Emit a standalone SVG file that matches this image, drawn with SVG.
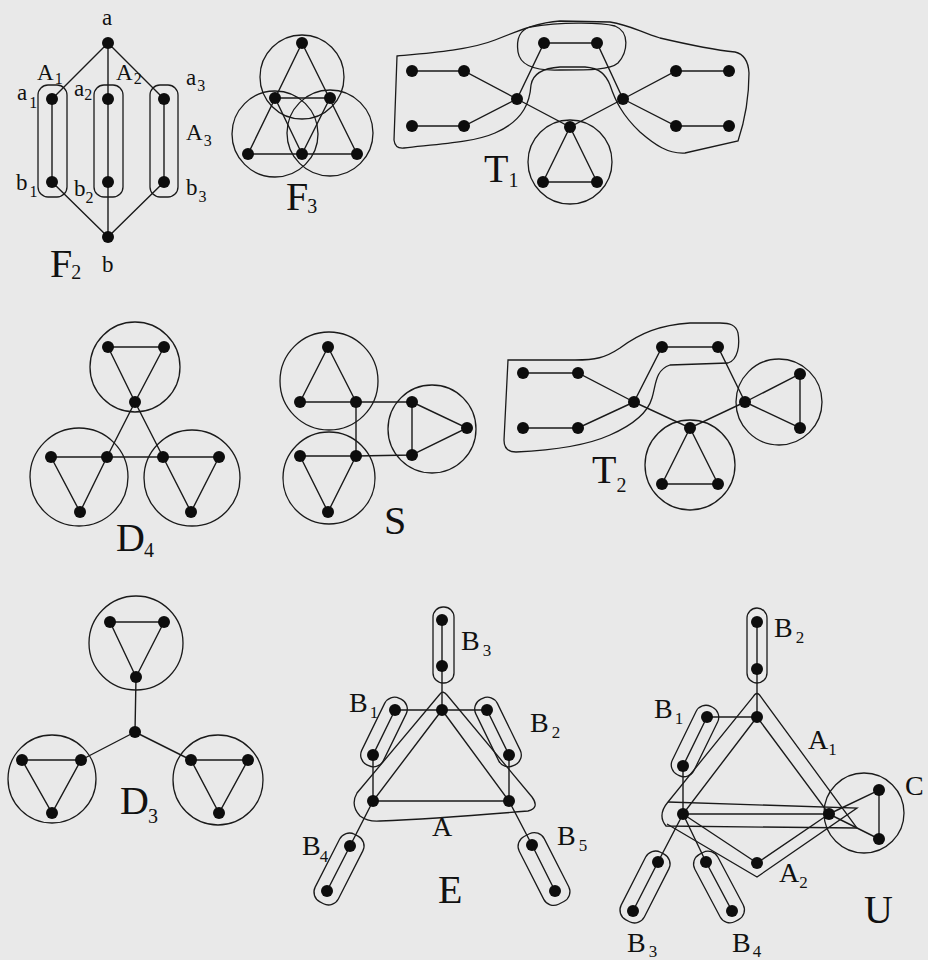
<svg xmlns="http://www.w3.org/2000/svg" xmlns:xlink="http://www.w3.org/1999/xlink" width="928" height="960" viewBox="0 0 928 960">
<style>
.e{stroke:#1a1a1a;stroke-width:1.4;fill:none}
.o{stroke:#1a1a1a;stroke-width:1.3;fill:none}
.n{fill:#0d0d0d}
text{font-family:"Liberation Serif","Times New Roman",serif;fill:#111}
.big{font-size:40px}
.sb{font-size:20px}
.s{font-size:23px}
.ss{font-size:16px}
.m{font-size:28px}
.ms{font-size:17px}
</style>
<defs><circle id="dot" class="n" r="6"/></defs>
<rect width="928" height="960" fill="#e9e9e9"/>

<!-- F2 -->
<g id="F2">
<g id="F2-edges" class="e">
<path d="M108,43L52,99M108,43L108,99M108,43L164,99M52,99L52,182M108,99L108,182M164,99L164,182M52,182L108,237M108,182L108,237M164,182L108,237"/>
</g>
<g id="F2-sets" class="o">
<rect x="38" y="85" width="29" height="112" rx="10"/>
<rect x="94" y="85" width="29" height="112" rx="10"/>
<rect x="150" y="85" width="28" height="112" rx="10"/>
</g>
<g id="F2-nodes">
<use id="F2-a" href="#dot" x="108" y="43"/><use id="F2-a1" href="#dot" x="52" y="99"/><use id="F2-a2" href="#dot" x="108" y="99"/><use id="F2-a3" href="#dot" x="164" y="99"/>
<use id="F2-b1" href="#dot" x="52" y="182"/><use id="F2-b2" href="#dot" x="108" y="182"/><use id="F2-b3" href="#dot" x="164" y="182"/><use id="F2-b" href="#dot" x="108" y="237"/>
</g>
<text class="s" x="102" y="25">a</text>
<text class="s" x="37" y="80">A<tspan class="ss" dx="1" dy="4">1</tspan></text>
<text class="s" x="17" y="100">a<tspan class="ss" dx="2" dy="8">1</tspan></text>
<text class="s" x="74" y="96">a<tspan class="ss" dx="0" dy="4">2</tspan></text>
<text class="s" x="116" y="80">A<tspan class="ss" dx="1" dy="4">2</tspan></text>
<text class="s" x="186" y="85">a<tspan class="ss" dx="1" dy="6">3</tspan></text>
<text class="s" x="186" y="140">A<tspan class="ss" dx="1" dy="6">3</tspan></text>
<text class="s" x="16" y="190">b<tspan class="ss" dx="2" dy="7">1</tspan></text>
<text class="s" x="74" y="196">b<tspan class="ss" dx="0" dy="7">2</tspan></text>
<text class="s" x="186" y="195">b<tspan class="ss" dx="1" dy="7">3</tspan></text>
<text class="s" x="102" y="272">b</text>
<text class="big" x="50" y="277">F<tspan class="sb" dx="-1" dy="2">2</tspan></text>
</g>

<!-- F3 -->
<g id="F3">
<g id="F3-edges" class="e">
<path d="M302,43L248,154M302,43L357,154M248,154L357,154M275,98L330,98M275,98L302,154M330,98L302,154"/>
</g>
<g id="F3-sets" class="o">
<circle cx="302" cy="77" r="42"/>
<circle cx="275" cy="134" r="43"/>
<circle cx="330" cy="133" r="43"/>
</g>
<g id="F3-nodes">
<use id="F3-1" href="#dot" x="302" y="43"/><use id="F3-2" href="#dot" x="275" y="98"/><use id="F3-3" href="#dot" x="330" y="98"/>
<use id="F3-4" href="#dot" x="248" y="154"/><use id="F3-5" href="#dot" x="302" y="154"/><use id="F3-6" href="#dot" x="357" y="154"/>
</g>
<text class="big" x="286" y="210">F<tspan class="sb" dx="-1" dy="3">3</tspan></text>
</g>

<!-- T1 -->
<g id="T1">
<g id="T1-edges" class="e">
<path d="M412,71L464,71L517,99M412,126L464,126L517,99M517,99L544,43L597,43L623,99M623,99L676,71L729,71M623,99L676,126L729,126M517,99L570,127L623,99M570,127L543,182L597,182L570,127"/>
</g>
<g id="T1-sets" class="o">
<path d="M397,56L394,140Q395,149 404,148C440,144 475,142 495,133C525,120 530,100 531,85C533,72 545,68 560,67L585,67C600,68 606,75 610,85C615,100 622,115 640,132C655,145 668,154 685,153L738,141C745,120 749,95 749,73Q748,55 735,52C715,50 690,45 660,38C640,32 630,25 610,22L560,21C540,22 520,30 495,40C470,50 430,53 397,56Z"/>
<path d="M530,27C560,22 600,22 615,26C630,32 628,52 618,63C610,70 590,70 560,70C535,71 520,65 518,52C516,38 520,30 530,27Z"/>
<circle cx="570" cy="162" r="42"/>
</g>
<g id="T1-nodes">
<use id="T1-n1" href="#dot" x="412" y="71"/><use id="T1-n2" href="#dot" x="464" y="71"/><use id="T1-n3" href="#dot" x="412" y="126"/><use id="T1-n4" href="#dot" x="464" y="126"/>
<use id="T1-c1" href="#dot" x="517" y="99"/><use id="T1-t1" href="#dot" x="544" y="43"/><use id="T1-t2" href="#dot" x="597" y="43"/><use id="T1-c2" href="#dot" x="623" y="99"/>
<use id="T1-r1" href="#dot" x="676" y="71"/><use id="T1-r2" href="#dot" x="729" y="71"/><use id="T1-r3" href="#dot" x="676" y="126"/><use id="T1-r4" href="#dot" x="729" y="126"/>
<use id="T1-t" href="#dot" x="570" y="127"/><use id="T1-tl" href="#dot" x="543" y="182"/><use id="T1-tr" href="#dot" x="597" y="182"/>
</g>
<text class="big" x="484" y="182">T<tspan class="sb" dx="0" dy="5">1</tspan></text>
</g>

<!-- D4 -->
<g id="D4">
<g id="D4-edges" class="e">
<path d="M108,347L164,347L135,402L108,347M135,402L107,457M135,402L163,457M51,457L219,457M51,457L80,512L107,457M163,457L191,512L219,457"/>
</g>
<g id="D4-sets" class="o">
<circle cx="135" cy="367" r="45"/>
<circle cx="79" cy="477" r="49"/>
<circle cx="192" cy="478" r="48"/>
</g>
<g id="D4-nodes">
<use id="D4-1" href="#dot" x="108" y="347"/><use id="D4-2" href="#dot" x="164" y="347"/><use id="D4-3" href="#dot" x="135" y="402"/>
<use id="D4-4" href="#dot" x="51" y="457"/><use id="D4-5" href="#dot" x="107" y="457"/><use id="D4-6" href="#dot" x="80" y="512"/>
<use id="D4-7" href="#dot" x="163" y="457"/><use id="D4-8" href="#dot" x="219" y="457"/><use id="D4-9" href="#dot" x="191" y="512"/>
</g>
<text class="big" x="116" y="551">D<tspan class="sb" dx="-1" dy="6">4</tspan></text>
</g>

<!-- S -->
<g id="S">
<g id="S-edges" class="e">
<path d="M328,347L300,402L356,402L328,347M356,402L412,402M356,402L356,456M300,456L356,456L412,455M300,456L328,512L356,456M412,402L412,455L467,428L412,402"/>
</g>
<g id="S-sets" class="o">
<circle cx="329" cy="381" r="49"/>
<circle cx="329" cy="478" r="46"/>
<circle cx="432" cy="429" r="44"/>
</g>
<g id="S-nodes">
<use id="S-1" href="#dot" x="328" y="347"/><use id="S-2" href="#dot" x="300" y="402"/><use id="S-3" href="#dot" x="356" y="402"/>
<use id="S-4" href="#dot" x="300" y="456"/><use id="S-5" href="#dot" x="356" y="456"/><use id="S-6" href="#dot" x="328" y="512"/>
<use id="S-7" href="#dot" x="412" y="402"/><use id="S-8" href="#dot" x="412" y="455"/><use id="S-9" href="#dot" x="467" y="428"/>
</g>
<text class="big" x="384" y="534">S</text>
</g>

<!-- T2 -->
<g id="T2">
<g id="T2-edges" class="e">
<path d="M523,373L578,373L634,402M523,428L578,428L634,402M634,402L662,347L718,347L745,402M745,402L800,374L800,428L745,402M634,402L690,428L745,402M690,428L662,484L718,484L690,428"/>
</g>
<g id="T2-sets" class="o">
<path d="M508,360L504,440Q504,452 516,452C560,450 590,444 610,435C635,424 648,412 652,398C656,385 655,370 670,365L728,363C738,360 740,345 738,333C736,325 730,323 720,323L690,323C660,325 640,333 620,348C605,358 595,360 575,360Z"/>
<circle cx="690" cy="465" r="45"/>
<circle cx="779" cy="402" r="43"/>
</g>
<g id="T2-nodes">
<use id="T2-n1" href="#dot" x="523" y="373"/><use id="T2-n2" href="#dot" x="578" y="373"/><use id="T2-n3" href="#dot" x="523" y="428"/><use id="T2-n4" href="#dot" x="578" y="428"/>
<use id="T2-c1" href="#dot" x="634" y="402"/><use id="T2-t1" href="#dot" x="662" y="347"/><use id="T2-t2" href="#dot" x="718" y="347"/><use id="T2-c2" href="#dot" x="745" y="402"/>
<use id="T2-rt" href="#dot" x="800" y="374"/><use id="T2-rb" href="#dot" x="800" y="428"/>
<use id="T2-t" href="#dot" x="690" y="428"/><use id="T2-tl" href="#dot" x="662" y="484"/><use id="T2-tr" href="#dot" x="718" y="484"/>
</g>
<text class="big" x="592" y="483">T<tspan class="sb" dx="0" dy="9">2</tspan></text>
</g>

<!-- D3 -->
<g id="D3">
<g id="D3-edges" class="e">
<path d="M110,622L164,622L136,677L110,622M136,677L135,732M135,732L81,760M135,732L191,760M22,760L81,760L52,813L22,760M191,760L248,760L219,813L191,760"/>
</g>
<g id="D3-sets" class="o">
<circle cx="136" cy="643" r="47"/>
<circle cx="52" cy="779" r="44"/>
<circle cx="218" cy="780" r="45"/>
</g>
<g id="D3-nodes">
<use id="D3-1" href="#dot" x="110" y="622"/><use id="D3-2" href="#dot" x="164" y="622"/><use id="D3-3" href="#dot" x="136" y="677"/>
<use id="D3-c" href="#dot" x="135" y="732"/>
<use id="D3-4" href="#dot" x="22" y="760"/><use id="D3-5" href="#dot" x="81" y="760"/><use id="D3-6" href="#dot" x="52" y="813"/>
<use id="D3-7" href="#dot" x="191" y="760"/><use id="D3-8" href="#dot" x="248" y="760"/><use id="D3-9" href="#dot" x="219" y="813"/>
</g>
<text class="big" x="120" y="814">D<tspan class="sb" dx="-1" dy="9">3</tspan></text>
</g>

<!-- E -->
<g id="E">
<g id="E-edges" class="e">
<path d="M442,620L442,710M395,710L487,710M395,710L373,755L373,801M487,710L509,755L509,801M442,710L373,801L509,801L442,710M373,801L350,846L327,891M509,801L532,845L555,891"/>
</g>
<g id="E-sets" class="o">
<rect x="433" y="607" width="21" height="76" rx="10"/>
<rect x="372" y="695" width="24" height="74" rx="11" transform="rotate(26 384 732)"/>
<rect x="486" y="695" width="24" height="74" rx="11" transform="rotate(-26 498 732)"/>
<rect x="326" y="831" width="26" height="76" rx="11" transform="rotate(27 339 869)"/>
<rect x="530" y="831" width="28" height="76" rx="11" transform="rotate(-27 544 869)"/>
<path d="M440,694L357,793Q350,805 360,816Q368,822 380,821C430,819 480,815 528,811Q540,808 532,797L447,695Q443,690 440,694Z"/>
</g>
<g id="E-nodes">
<use id="E-b3a" href="#dot" x="442" y="620"/><use id="E-b3b" href="#dot" x="442" y="666"/><use id="E-h" href="#dot" x="442" y="710"/>
<use id="E-b1a" href="#dot" x="395" y="710"/><use id="E-b1b" href="#dot" x="373" y="755"/><use id="E-b2a" href="#dot" x="487" y="710"/><use id="E-b2b" href="#dot" x="509" y="755"/>
<use id="E-l" href="#dot" x="373" y="801"/><use id="E-r" href="#dot" x="509" y="801"/>
<use id="E-b4a" href="#dot" x="350" y="846"/><use id="E-b4b" href="#dot" x="327" y="891"/><use id="E-b5a" href="#dot" x="532" y="845"/><use id="E-b5b" href="#dot" x="555" y="891"/>
</g>
<text class="m" x="461" y="650">B<tspan class="ms" dx="3" dy="6">3</tspan></text>
<text class="m" x="349" y="712">B<tspan class="ms" dx="2" dy="6">1</tspan></text>
<text class="m" x="530" y="732">B<tspan class="ms" dx="3" dy="6">2</tspan></text>
<text class="m" x="432" y="836">A</text>
<text class="m" x="302" y="855">B<tspan class="ms" dx="-1" dy="7">4</tspan></text>
<text class="m" x="557" y="845">B<tspan class="ms" dx="3" dy="6">5</tspan></text>
<text class="big" x="438" y="903">E</text>
</g>

<!-- U -->
<g id="U">
<g id="U-edges" class="e">
<path d="M757,622L757,717M707,717L757,717M707,717L683,766L683,814M757,717L683,814L829,814L757,717M683,814L757,863L829,814M829,814L879,790L879,839L829,814M683,814L658,862L633,911M683,814L706,862L732,911"/>
</g>
<g id="U-sets" class="o">
<rect x="747" y="608" width="20" height="75" rx="10"/>
<rect x="683" y="703" width="24" height="76" rx="11" transform="rotate(26 695 741)"/>
<rect x="632" y="849" width="26" height="76" rx="11" transform="rotate(27 645 887)"/>
<rect x="706" y="849" width="26" height="76" rx="11" transform="rotate(-28 719 887)"/>
<path d="M753,697Q757,690 761,697L857,828L666,826Q657,815 668,802Z"/>
<path d="M668,802L857,808L757,877L667,824"/>
<circle cx="864" cy="813" r="40"/>
</g>
<g id="U-nodes">
<use id="U-b2a" href="#dot" x="757" y="622"/><use id="U-b2b" href="#dot" x="757" y="669"/><use id="U-h" href="#dot" x="757" y="717"/>
<use id="U-b1a" href="#dot" x="707" y="717"/><use id="U-b1b" href="#dot" x="683" y="766"/>
<use id="U-l" href="#dot" x="683" y="814"/><use id="U-r" href="#dot" x="829" y="814"/><use id="U-a2" href="#dot" x="757" y="863"/>
<use id="U-c1" href="#dot" x="879" y="790"/><use id="U-c2" href="#dot" x="879" y="839"/>
<use id="U-b3a" href="#dot" x="658" y="862"/><use id="U-b3b" href="#dot" x="633" y="911"/><use id="U-b4a" href="#dot" x="706" y="862"/><use id="U-b4b" href="#dot" x="732" y="911"/>
</g>
<text class="m" x="774" y="637">B<tspan class="ms" dx="3" dy="6">2</tspan></text>
<text class="m" x="654" y="718">B<tspan class="ms" dx="2" dy="6">1</tspan></text>
<text class="m" x="808" y="749">A<tspan class="ms" dx="0" dy="6">1</tspan></text>
<text class="m" x="905" y="795">C</text>
<text class="m" x="779" y="882">A<tspan class="ms" dx="0" dy="6">2</tspan></text>
<text class="big" x="864" y="923">U</text>
<text class="m" x="627" y="952">B<tspan class="ms" dx="3" dy="5">3</tspan></text>
<text class="m" x="732" y="952">B<tspan class="ms" dx="2" dy="5">4</tspan></text>
</g>
</svg>
